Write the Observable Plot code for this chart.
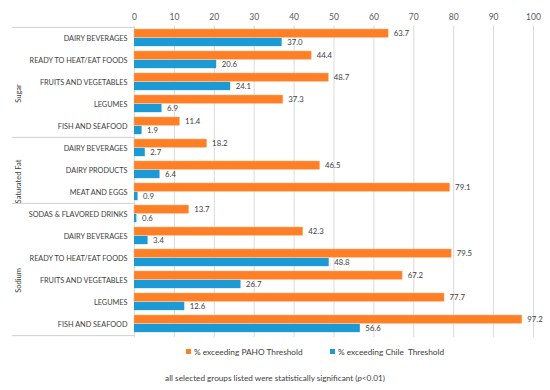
<!DOCTYPE html>
<html><head><meta charset="utf-8">
<script src="https://cdn.jsdelivr.net/npm/d3@7"></script>
<script src="https://cdn.jsdelivr.net/npm/@observablehq/plot@0.6"></script>
<style>
body{margin:0;background:#fff;font-family:Lato,"Open Sans",sans-serif;}
#wrap{position:relative;width:550px;height:390px;}
#legend{position:absolute;left:0;top:347px;width:550px;font-size:8.3px;color:#404040;}
#legend span.item{position:absolute;top:0;white-space:pre;}
#legend i{display:inline-block;width:5px;height:5px;margin-right:3px;vertical-align:1px;}
#caption{position:absolute;left:0;top:373px;width:550px;text-align:center;font-size:8.2px;color:#404040;padding-left:0px;}
</style></head>
<body><div id="wrap"><div id="chart"></div>
<div id="legend"></div>
<div id="caption">all selected groups listed were statistically significant (<i>p</i>&lt;0.01)</div>
</div>
<script>
const groups = ["Sugar","Sugar","Sugar","Sugar","Sugar","Saturated Fat","Saturated Fat","Saturated Fat","Sodium","Sodium","Sodium","Sodium","Sodium","Sodium"];
const categories = ["DAIRY BEVERAGES","READY TO HEAT/EAT FOODS","FRUITS AND VEGETABLES","LEGUMES","FISH AND SEAFOOD","DAIRY BEVERAGES","DAIRY PRODUCTS","MEAT AND EGGS","SODAS & FLAVORED DRINKS","DAIRY BEVERAGES","READY TO HEAT/EAT FOODS","FRUITS AND VEGETABLES","LEGUMES","FISH AND SEAFOOD"];
const paho = [63.7,44.4,48.7,37.3,11.4,18.2,46.5,79.1,13.7,42.3,79.5,67.2,77.7,97.2];
const chile = [37.0,20.6,24.1,6.9,1.9,2.7,6.4,0.9,0.6,3.4,48.8,26.7,12.6,56.6];
const xTicks = [0,10,20,30,40,50,60,70,80,90,100];
const seriesNames = ["% exceeding PAHO Threshold","% exceeding Chile  Threshold"];
const colors = ["#FF7F27","#1C9AD6"];

const keys = categories.map((c,i)=>groups[i]+"|"+c);
const rows = keys.map((k,i)=>({key:k, group:groups[i], cat:categories[i], paho:paho[i], chile:chile[i]}));
const groupNames = [...new Set(groups)];
const groupInfo = groupNames.map(g=>{
  const idx = groups.map((x,i)=>x===g?i:-1).filter(i=>i>=0);
  return {g, first:keys[idx[0]], last:keys[idx[idx.length-1]], n:idx.length};
});

const H=340, MT=25.6, MB=3;
const pitch=(H-MT-MB)/keys.length;
const barH=8.5;

const plot = Plot.plot({
  width:550, height:H, marginTop:MT, marginBottom:MB, marginLeft:134, marginRight:17,
  style:{fontFamily:"Lato, 'Open Sans', sans-serif", color:"#404040", background:"#fff"},
  x:{domain:[0,100]},
  y:{domain:keys, padding:0},
  marks:[
    Plot.gridX(xTicks,{stroke:"#d9d9d9", strokeOpacity:1, strokeWidth:1}),
    Plot.axisX(xTicks,{anchor:"top", tickSize:0, tickPadding:6, fontSize:8.5, fill:"#595959", tickFormat:d=>d}),
    Plot.axisY({anchor:"left", tickSize:0, tickPadding:7, fontSize:7.3, fill:"#404040", tickFormat:d=>d.split("|")[1]}),
    Plot.barX(rows,{y:"key", x:"paho", fill:colors[0], stroke:"#ffb27a", strokeWidth:0.5, insetTop:2, insetBottom:pitch-2-barH}),
    Plot.barX(rows,{y:"key", x:"chile", fill:colors[1], insetTop:2.4+barH, insetBottom:pitch-2.4-2*barH}),
    Plot.text(rows,{y:"key", x:"paho", text:d=>d.paho.toFixed(1), textAnchor:"start", dx:5, dy:-pitch/2+2+barH/2, fontSize:7.8, fill:"#404040"}),
    Plot.text(rows,{y:"key", x:"chile", text:d=>d.chile.toFixed(1), textAnchor:"start", dx:5, dy:-pitch/2+2.4+barH*1.5, fontSize:7.8, fill:"#404040"}),
    Plot.ruleY(groupInfo,{y:"first", x1:-30.6, x2:0, dy:-pitch/2, stroke:"#d0d0d0"}),
    Plot.ruleY(groupInfo.slice(-1),{y:"last", x1:-30.6, x2:0, dy:pitch/2, stroke:"#d0d0d0"}),
    Plot.text(groupInfo,{y:"first", text:"g", frameAnchor:"left", fontSize:7.5, fill:"#404040"})
  ]
});
document.getElementById("chart").appendChild(plot);

// place group labels rotated at the middle of their groups using the plot's y scale
const ys = plot.scale("y");
d3.select(plot).selectAll("text").filter(function(){return groupNames.includes(this.textContent);})
  .each(function(){
    const g = groupInfo.find(o=>o.g===this.textContent);
    const top = ys.apply(g.first), bottom = ys.apply(g.last)+ys.bandwidth;
    d3.select(this).attr("x",null).attr("y",null).attr("text-anchor","middle").attr("dy","0.32em")
      .attr("transform", `translate(18,${(top+bottom)/2}) rotate(-90)`);
  });

const lg = document.getElementById("legend");
const lx = [186, 330];
seriesNames.forEach((s,i)=>{
  const sp=document.createElement("span"); sp.className="item"; sp.style.left=lx[i]+"px";
  sp.innerHTML=`<i style="background:${colors[i]}"></i>${s}`; lg.appendChild(sp);
});
</script></body></html>
